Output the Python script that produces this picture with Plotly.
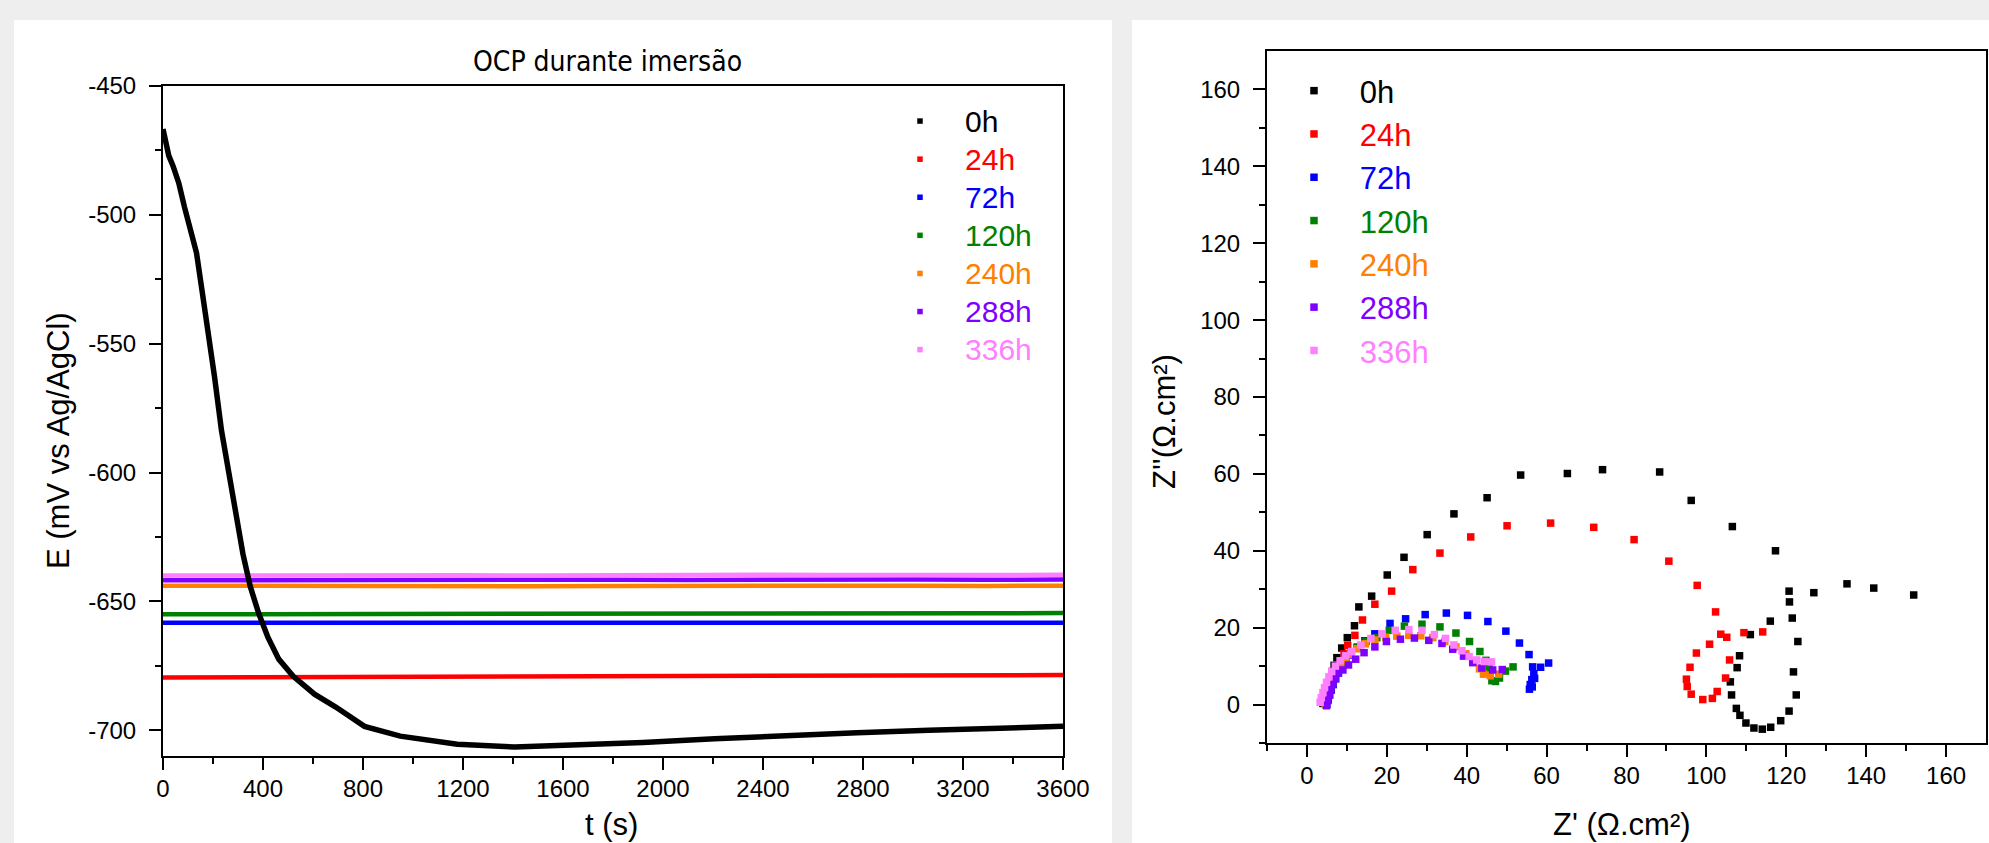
import plotly.graph_objects as go

W, H = 1989, 843

# ---------------- OCP data (left) ----------------
t_0h = [0, 11, 23, 40, 63, 86, 114, 134, 157, 183, 206, 234, 263, 291, 320, 349, 383, 420, 463,
        520, 606, 691, 760, 806, 949, 1177, 1406, 1634, 1920, 2206, 2491, 2777, 3063, 3349, 3600]
E_0h = [-466.7, -473.0, -477.0, -481.0, -487.6, -497.0, -506.4, -514.7, -530.0, -546.0, -562.8, -583.7,
        -600.4, -617.0, -631.7, -644.2, -654.7, -664.0, -672.4, -679.0, -686.0, -691.0, -695.5, -698.5,
        -702.3, -705.4, -706.5, -705.8, -704.8, -703.3, -702.0, -701.0, -700.0, -699.2, -698.5]

t_flat = [0, 300, 600, 900, 1200, 1500, 1800, 2100, 2400, 2700, 3000, 3300, 3600]
E_24h = [-679.5, -679.4, -679.3, -679.4, -679.2, -679.0, -679.1, -678.9, -678.8, -678.9, -678.7, -678.8, -678.6]
E_72h = [-658.3, -658.3, -658.4, -658.2, -658.3, -658.2, -658.1, -658.3, -658.2, -658.4, -658.3, -658.2, -658.3]
E_120h = [-655.0, -655.0, -655.0, -654.9, -655.0, -654.9, -654.9, -654.8, -654.8, -654.7, -654.6, -654.6, -654.5]
E_240h = [-643.9, -644.0, -644.1, -644.0, -643.9, -644.1, -644.0, -643.9, -644.0, -644.1, -643.9, -644.0, -643.9]
E_288h = [-641.8, -641.7, -641.8, -641.6, -641.7, -641.7, -641.6, -641.7, -641.5, -641.6, -641.5, -641.6, -641.5]
E_336h = [-640.0, -639.9, -640.0, -639.8, -639.9, -640.0, -639.8, -639.9, -639.7, -639.8, -639.9, -639.8, -639.7]

# ---------------- Nyquist data (right) ----------------
zr_0h = [4.0, 4.3, 4.6, 5.0, 5.4, 5.8, 6.3, 6.8, 7.5, 8.7, 10.1, 11.9, 13.0, 16.2, 20.1, 24.3, 30.1, 36.8,
         45.1, 53.5, 65.2, 74.0, 88.3, 96.2, 106.5, 117.3, 120.7, 120.8, 121.5, 122.9, 121.8, 122.5, 120.7,
         118.6, 116.1, 114.0, 111.9, 109.9, 108.4, 107.5, 106.3, 106.0, 107.7, 108.3, 111.0, 116.0, 126.9,
         135.2, 141.9, 151.9]
zi_0h = [0.3, 1.5, 2.8, 4.2, 5.6, 7.0, 8.6, 10.2, 12.2, 14.7, 17.4, 20.5, 25.4, 28.2, 33.7, 38.3, 44.2, 49.6,
         53.8, 59.7, 60.1, 61.1, 60.5, 53.1, 46.3, 40.0, 29.5, 26.7, 22.5, 16.4, 8.5, 2.5, -1.7,
         -4.2, -5.9, -6.4, -6.1, -4.8, -2.8, -1.0, 2.5, 5.9, 9.6, 12.7, 18.2, 21.7, 29.1,
         31.4, 30.3, 28.5]

zr_24h = [4.5, 4.9, 5.3, 5.8, 6.3, 6.9, 7.6, 8.4, 9.3, 10.2, 12.0, 13.9, 17.0, 21.2, 26.5, 33.3, 41.0, 50.1,
          61.0, 71.8, 81.9, 90.6, 97.7, 102.3, 103.6, 105.1, 109.4, 114.1, 100.8, 97.5, 95.9, 95.0, 95.2,
          96.2, 99.1, 101.5, 102.7, 104.8, 105.8]
zi_24h = [0.3, 1.6, 3.0, 4.5, 6.0, 7.5, 9.2, 11.0, 13.2, 15.4, 18.0, 22.0, 26.1, 29.5, 35.1, 39.4, 43.6, 46.5,
          47.2, 46.1, 42.9, 37.3, 31.0, 24.1, 18.3, 17.5, 18.7, 18.9, 15.7, 13.4, 9.7, 6.6, 4.7,
          2.7, 1.3, 1.6, 3.4, 6.9, 11.6]

zr_72h = [5.0, 5.3, 5.7, 6.1, 6.6, 7.2, 7.9, 8.7, 9.7, 10.9, 12.5, 14.5, 17.0, 20.8, 24.7, 29.6, 34.9, 40.2,
          45.3, 49.8, 53.2, 55.6, 56.5, 56.8, 56.3, 55.9, 55.7, 56.4, 57.0, 58.5, 60.5]
zi_72h = [0.0, 1.2, 2.5, 3.8, 5.2, 6.7, 8.2, 9.7, 11.3, 12.9, 14.7, 16.6, 18.4, 21.1, 22.3, 23.4, 23.8, 23.2,
          21.6, 19.1, 16.0, 13.0, 9.8, 8.0, 6.5, 5.2, 4.0, 4.6, 6.8, 9.7, 10.8]

zr_120h = [4.8, 5.1, 5.5, 6.0, 6.5, 7.1, 7.8, 8.7, 9.7, 11.0, 12.6, 14.8, 17.5, 20.6, 24.4, 28.8, 33.3, 37.3,
           40.7, 43.3, 44.8, 45.6, 46.3, 47.2, 48.2, 49.7, 51.6]
zi_120h = [0.0, 1.3, 2.7, 4.2, 5.7, 7.2, 8.7, 10.3, 11.8, 13.4, 15.0, 16.4, 17.4, 19.3, 20.4, 20.9, 20.2, 18.6,
           16.4, 13.8, 11.5, 9.5, 6.2, 6.0, 6.9, 8.7, 9.8]

zr_240h = [4.6, 4.9, 5.3, 5.8, 6.3, 6.9, 7.6, 8.5, 9.6, 10.9, 12.5, 14.6, 17.0, 19.7, 22.5, 25.5, 28.5, 31.5,
           34.5, 37.3, 39.8, 41.8, 43.2, 44.2, 45.9, 48.0]
zi_240h = [0.0, 1.3, 2.7, 4.2, 5.7, 7.2, 8.7, 10.2, 11.7, 13.1, 14.5, 15.8, 16.8, 17.5, 17.8, 18.0, 17.9, 17.4,
           16.4, 15.0, 13.2, 11.2, 9.3, 7.9, 7.5, 7.9]

zr_288h = [4.9, 5.2, 5.6, 6.0, 6.5, 7.1, 7.8, 9.0, 10.4, 12.2, 14.3, 17.0, 19.9, 23.4, 26.9, 30.5, 33.8, 36.5,
           39.2, 41.5, 43.8, 46.5, 48.9]
zi_288h = [-0.3, 1.0, 2.4, 3.8, 5.3, 6.8, 8.3, 9.0, 10.3, 11.8, 13.5, 15.0, 16.4, 17.0, 17.3, 16.7, 15.9, 14.4,
           12.6, 10.9, 9.5, 9.0, 9.1]

zr_336h = [3.3, 3.6, 4.0, 4.4, 4.9, 5.5, 6.2, 7.1, 8.3, 9.7, 11.2, 13.5, 16.0, 18.8, 22.1, 25.5, 28.8, 31.9,
           34.7, 36.8, 38.8, 40.6, 42.5, 44.4, 46.2]
zi_336h = [0.6, 1.8, 3.1, 4.4, 5.8, 7.2, 8.6, 10.0, 11.4, 12.7, 13.8, 15.5, 17.2, 18.4, 19.3, 19.5, 19.3, 18.2,
           17.2, 15.5, 14.0, 12.5, 11.6, 11.2, 11.1]

labels = ["0h", "24h", "72h", "120h", "240h", "288h", "336h"]
colors = ["#000000", "#ff0000", "#0000ff", "#008000", "#ff8000", "#8000ff", "#ff80ff"]

x_ticks_left = [0, 400, 800, 1200, 1600, 2000, 2400, 2800, 3200, 3600]
y_ticks_left = [-700, -650, -600, -550, -500, -450]
ticks_right = [0, 20, 40, 60, 80, 100, 120, 140, 160]

FONT = "Liberation Sans, Arial, sans-serif"
NB = "\u00a0\u00a0\u00a0"


def px(x):
    return x / W


def py(y):
    return 1 - y / H


fig = go.Figure()

# Left: OCP lines (flat lines first, black curve on top)
flat = [E_24h, E_72h, E_120h, E_240h, E_288h, E_336h]
for i, e in enumerate(flat):
    fig.add_trace(go.Scatter(x=t_flat, y=e, mode="lines", line=dict(color=colors[i + 1], width=4.5),
                             showlegend=False, xaxis="x", yaxis="y"))
fig.add_trace(go.Scatter(x=t_0h, y=E_0h, mode="lines", line=dict(color=colors[0], width=5.5),
                         showlegend=False, xaxis="x", yaxis="y"))
# Left legend entries (text drawn at 30px, rows spaced as for a 27px font)
for lab, c in zip(labels, colors):
    fig.add_trace(go.Scatter(x=[None], y=[None], mode="markers",
                             marker=dict(symbol="square", size=5.5, color=c),
                             name=f'<span style="font-size:30px">{NB}</span>'
                                  f'<span style="color:{c};font-size:30px">{lab}</span>',
                             legend="legend", xaxis="x", yaxis="y"))

# Right: Nyquist
nyq = [(zr_0h, zi_0h), (zr_24h, zi_24h), (zr_72h, zi_72h), (zr_120h, zi_120h),
       (zr_240h, zi_240h), (zr_288h, zi_288h), (zr_336h, zi_336h)]
for (zr, zi), lab, c in zip(nyq, labels, colors):
    fig.add_trace(go.Scatter(x=zr, y=zi, mode="markers",
                             marker=dict(symbol="square", size=7.5, color=c, line=dict(width=0)),
                             name=f'{NB}<span style="color:{c}">{lab}</span>',
                             legend="legend2", xaxis="x2", yaxis="y2"))

axis_common = dict(showline=True, linecolor="black", linewidth=2, mirror=True, showgrid=False,
                   zeroline=False, ticks="outside", ticklen=12, tickwidth=2, tickcolor="black",
                   tickfont=dict(family=FONT, size=24, color="black"), automargin=False)
minor_common = dict(ticks="outside", ticklen=6, tickwidth=2, tickcolor="black")

fig.update_layout(
    width=W, height=H,
    margin=dict(l=0, r=0, t=0, b=0, pad=0, autoexpand=False),
    paper_bgcolor="#eeeeef",
    plot_bgcolor="white",
    xaxis=dict(axis_common, domain=[px(163), px(1063)], range=[0, 3600], ticklabelstandoff=-2,
               tickmode="array", tickvals=x_ticks_left, ticktext=[str(v) for v in x_ticks_left],
               minor=dict(minor_common, tickvals=[200 + 400 * i for i in range(9)]),
               anchor="y"),
    yaxis=dict(axis_common, domain=[py(756), py(86)], range=[-710, -450], ticklabelstandoff=8,
               tickmode="array", tickvals=y_ticks_left, ticktext=[str(v) for v in y_ticks_left],
               minor=dict(minor_common, tickvals=[-675, -625, -575, -525, -475]),
               anchor="x"),
    xaxis2=dict(axis_common, domain=[px(1267), px(1986)], range=[-10, 170], ticklabelstandoff=-2,
                tickmode="array", tickvals=ticks_right, ticktext=[str(v) for v in ticks_right],
                minor=dict(minor_common, tickvals=[-10, 10, 30, 50, 70, 90, 110, 130, 150]),
                anchor="y2"),
    yaxis2=dict(axis_common, domain=[py(743), py(51)], range=[-10, 170], ticklabelstandoff=8,
                tickmode="array", tickvals=ticks_right, ticktext=[str(v) for v in ticks_right],
                minor=dict(minor_common, tickvals=[-10, 10, 30, 50, 70, 90, 110, 130, 150]),
                anchor="x2"),
    legend=dict(x=px(900), y=py(97), xanchor="left", yanchor="top", bgcolor="rgba(0,0,0,0)",
                font=dict(family=FONT, size=27, color="black"), itemwidth=30,
                tracegroupgap=0, borderwidth=0),
    legend2=dict(x=px(1294), y=py(64), xanchor="left", yanchor="top", bgcolor="rgba(0,0,0,0)",
                 font=dict(family=FONT, size=31, color="black"), itemwidth=30,
                 tracegroupgap=0, borderwidth=0),
    shapes=[
        dict(type="rect", xref="paper", yref="paper", x0=px(14), x1=px(1112), y0=0, y1=py(20),
             fillcolor="white", line=dict(width=0), layer="below"),
        dict(type="rect", xref="paper", yref="paper", x0=px(1132), x1=1, y0=0, y1=py(20),
             fillcolor="white", line=dict(width=0), layer="below"),
    ],
    annotations=[
        dict(text="OCP durante imersão", x=px(607), y=py(62), xref="paper", yref="paper",
             showarrow=False, xanchor="center", yanchor="middle",
             font=dict(family="DejaVu Sans Condensed, Liberation Sans Narrow, DejaVu Sans", size=28,
                       color="black")),
        dict(text="E (mV vs Ag/AgCl)", x=px(58), y=py(441), xref="paper", yref="paper",
             showarrow=False, textangle=-90, xanchor="center", yanchor="middle",
             font=dict(family=FONT, size=31, color="black")),
        dict(text="t (s)", x=px(611), y=0, xref="paper", yref="paper",
             showarrow=False, xanchor="center", yanchor="bottom", borderpad=0,
             font=dict(family=FONT, size=31, color="black")),
        dict(text="Z''(Ω.cm²)", x=px(1164), y=py(422), xref="paper", yref="paper",
             showarrow=False, textangle=-90, xanchor="center", yanchor="middle",
             font=dict(family=FONT, size=31, color="black")),
        dict(text="Z' (Ω.cm²)", x=px(1622), y=0, xref="paper", yref="paper",
             showarrow=False, xanchor="center", yanchor="bottom", borderpad=0,
             font=dict(family=FONT, size=31, color="black")),
    ],
)

fig.write_html(
    "out.html",
    config={"displayModeBar": False},
    post_script=("document.documentElement.style.margin='0';document.body.style.margin='0';"
                 "document.body.style.padding='0';document.body.style.overflow='hidden';"
                 "document.body.style.background='#eeeeef';"),
)
